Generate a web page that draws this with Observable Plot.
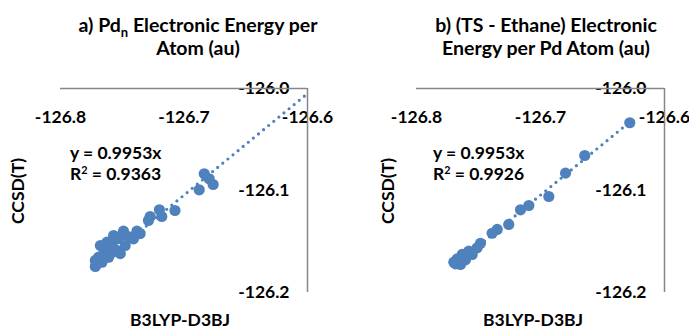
<!DOCTYPE html>
<html><head><meta charset="utf-8">
<script src="https://cdn.jsdelivr.net/npm/d3@7"></script>
<script src="https://cdn.jsdelivr.net/npm/@observablehq/plot@0.6"></script>
<style>
body{margin:0;background:#fff;}
#wrap{display:flex;width:689px;height:330px;}
#wrap svg{font-family:Lato,"Open Sans",sans-serif;display:block;}
</style></head><body><div id="wrap"></div>
<script>
// ---- data ----
const xTicks = [-126.8, -126.7, -126.6];
const yTicks = [-126.0, -126.1, -126.2];
const slope = 0.9953;
const r2Values = [0.9363, 0.9926];
const titlesA = ["a) Pd", "n", " Electronic Energy per", "Atom (au)"];
const titlesB = ["b) (TS - Ethane) Electronic", "Energy per Pd Atom (au)"];
const xLabel = "B3LYP-D3BJ";
const yLabel = "CCSD(T)";

// panel a: Pd_n electronic energy per atom
const aX = [-126.6836,-126.6796,-126.6764,-126.6877,-126.7073,-126.7199,-126.7180,-126.7274,-126.7288,-126.7381,-126.7490,-126.7409,-126.7476,-126.7570,-126.7623,-126.7677,-126.7597,-126.7543,-126.7637,-126.7691,-126.7704,-126.7664,-126.7610,-126.7718,-126.7583,-126.7677,-126.7645,-126.7581,-126.7532,-126.7452,-126.7355,-126.7516,-126.7718];
const aY = [-126.0836,-126.0885,-126.0941,-126.0993,-126.1196,-126.1189,-126.1255,-126.1255,-126.1294,-126.1399,-126.1399,-126.1474,-126.1539,-126.1441,-126.1507,-126.1539,-126.1556,-126.1588,-126.1621,-126.1654,-126.1719,-126.1703,-126.1654,-126.1686,-126.1605,-126.1667,-126.1588,-126.1520,-126.1471,-126.1451,-126.1422,-126.1618,-126.1745];
// panel b: (TS - ethane) electronic energy per Pd atom
const bX = [-126.6280,-126.6643,-126.6798,-126.6933,-126.7094,-126.7161,-126.7256,-126.7349,-126.7390,-126.7484,-126.7511,-126.7578,-126.7631,-126.7672,-126.7699,-126.7645,-126.7605,-126.7551,-126.7685];
const bY = [-126.0336,-126.0657,-126.0830,-126.1059,-126.1147,-126.1189,-126.1333,-126.1382,-126.1419,-126.1517,-126.1562,-126.1595,-126.1627,-126.1670,-126.1703,-126.1725,-126.1680,-126.1627,-126.1719];
// trendline forward forecast end (panel a reaches axis max)
const trendEnd = [-126.6, null];

const BLUE = "#4F81BD", AXIS = "#868686";
const FS = 17.5, TFS = 19.5;

function panel(xs, ys, r2, end, cfg) {
  const pts = xs.map((x, i) => ({x, y: ys[i]}));
  const x0 = d3.min(xs), x1 = end ?? d3.max(xs);
  const trend = [x0, x1].map(x => ({x, y: slope * x}));
  const chart = Plot.plot({
    width: cfg.width, height: 330,
    marginLeft: cfg.ml, marginRight: cfg.mr, marginTop: 88, marginBottom: 38,
    x: {domain: [-126.8, -126.6], axis: null},
    y: {domain: [-126.2, -126.0], axis: null},
    marks: [
      Plot.line(trend, {x: "x", y: "y", stroke: BLUE, strokeWidth: 3.2, strokeDasharray: "0,6.6", strokeLinecap: "round"}),
      Plot.dot(pts, {x: "x", y: "y", r: 5.6, fill: BLUE, stroke: "none"}),
      Plot.text(xTicks, {x: d => d, frameAnchor: "top", dy: 22, text: d => d.toFixed(1), fontWeight: "bold", fontSize: FS, fill: "black"}),
      Plot.text(yTicks, {y: d => d, frameAnchor: "right", textAnchor: "end", dx: -18, text: d => d.toFixed(1), fontWeight: "bold", fontSize: FS, fill: "black"}),
      Plot.ruleY([-126.0], {stroke: AXIS, strokeWidth: 1.5}),
      Plot.ruleX([-126.6], {stroke: AXIS, strokeWidth: 1.5})
    ]
  });
  const svg = d3.select(chart);
  const g = svg.append("g").attr("font-weight", "bold").attr("fill", "black").attr("text-anchor", "start");
  // title
  const t1 = g.append("text").attr("x", cfg.tx).attr("y", 32).attr("text-anchor", "middle").attr("font-size", TFS);
  cfg.title1(t1);
  g.append("text").attr("x", cfg.tx).attr("y", 55).attr("text-anchor", "middle").attr("font-size", TFS).text(cfg.title2);
  // equation
  g.append("text").attr("x", cfg.ex).attr("y", 159).attr("font-size", FS).text(`y = ${slope}x`);
  const r = g.append("text").attr("x", cfg.ex).attr("y", 180).attr("font-size", FS);
  r.append("tspan").text("R");
  r.append("tspan").attr("font-size", FS * 0.62).attr("dy", -6.5).text("2");
  r.append("tspan").attr("dy", 6.5).text(` = ${r2}`);
  // axis titles
  g.append("text").attr("x", cfg.xlx).attr("y", 326).attr("text-anchor", "middle").attr("font-size", FS).text(xLabel);
  g.append("text").attr("transform", `translate(${cfg.ylx},191) rotate(-90)`).attr("text-anchor", "middle")
    .attr("dominant-baseline", "central").attr("font-size", FS).text(yLabel);
  return chart;
}

const wrap = document.getElementById("wrap");
wrap.append(panel(aX, aY, r2Values[0], trendEnd[0], {
  width: 345, ml: 60, mr: 38, tx: 198, ex: 70, xlx: 180, ylx: 17,
  title1: t => { t.append("tspan").text(titlesA[0]); t.append("tspan").attr("font-size", 13).attr("dy", 5).text(titlesA[1]); t.append("tspan").attr("dy", -5).text(titlesA[2]); },
  title2: titlesA[3]
}));
wrap.append(panel(bX, bY, r2Values[1], trendEnd[1], {
  width: 344, ml: 71, mr: 25, tx: 201, ex: 88, xlx: 188, ylx: 42,
  title1: t => t.text(titlesB[0]),
  title2: titlesB[1]
}));
</script></body></html>
